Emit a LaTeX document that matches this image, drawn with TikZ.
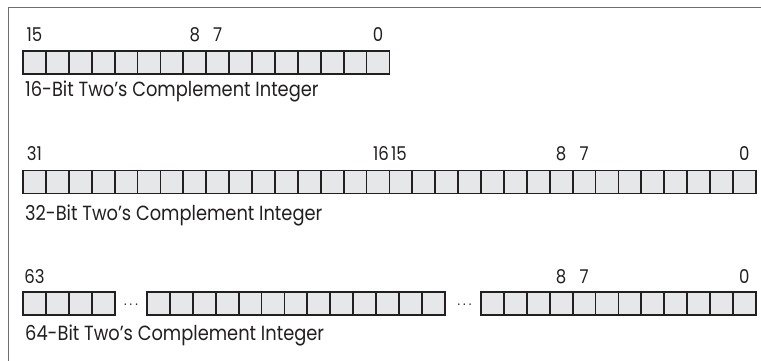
\documentclass[tikz,border=0pt]{standalone}
\usepackage{fontspec}
\setmainfont{Poppins}[FakeStretch=0.87]
\definecolor{cellfill}{HTML}{E6E7E8}
\definecolor{cellline}{HTML}{231F20}
\definecolor{framec}{HTML}{6D6E71}
\begin{document}
\begin{tikzpicture}[x=1pt,y=-1pt,
 cell/.style={draw=cellline, fill=cellfill, line width=1.8pt, minimum width=22.9pt, minimum height=23pt, inner sep=0pt, outer sep=0pt, anchor=north west},
 bitnum/.style={font=\fontsize{19}{19}\selectfont, text=cellline, inner sep=0pt, anchor=base},
 capt/.style={font=\fontsize{20.5}{20.5}\selectfont, text=cellline, inner sep=0pt, anchor=base west},
 dots/.style={font=\fontsize{14}{14}\selectfont, text=cellline, inner sep=0pt, anchor=base},
]
\useasboundingbox (0,0) rectangle (761,361);
\draw[framec, line width=1pt] (8,361) -- (8,8) -- (761,8);
% 16-bit
\foreach \i in {0,...,15}{
  \pgfmathtruncatemacro{\b}{15-\i}
  \node[cell] (a\b) at ({23+\i*22.9},51) {};
}
\node[bitnum] (la15) at (a15.center |- 0,41.5) {15};
\node[bitnum] (la8) at (a8.center |- 0,41.5) {8};
\node[bitnum] (la7) at (a7.center |- 0,41.5) {7};
\node[bitnum] (la0) at (a0.center |- 0,41.5) {0};
\node[capt] (ca) at (25,97) {16-Bit Two’s Complement Integer};
% 32-bit
\foreach \i in {0,...,31}{
  \pgfmathtruncatemacro{\b}{31-\i}
  \node[cell] (b\b) at ({23+\i*22.9},170.5) {};
}
\node[bitnum] (lb31) at (b31.center |- 0,160.5) {31};
\node[bitnum] (lb16) at ([xshift=3pt]b16.center |- 0,160.5) {16};
\node[bitnum] (lb15) at ([xshift=-2pt]b15.center |- 0,160.5) {15};
\node[bitnum] (lb8) at (b8.center |- 0,160.5) {8};
\node[bitnum] (lb7) at (b7.center |- 0,160.5) {7};
\node[bitnum] (lb0) at (b0.center |- 0,160.5) {0};
\node[capt] (cb) at (25,220.5) {32-Bit Two’s Complement Integer};
% 64-bit
\foreach \i in {0,...,3}{
  \pgfmathtruncatemacro{\b}{63-\i}
  \node[cell] (c\b) at ({23+\i*22.9},292) {};
}
\foreach \i in {0,...,12}{
  \pgfmathtruncatemacro{\b}{50-\i}
  \node[cell] (c\b) at ({147+\i*22.9},292) {};
}
\foreach \i in {0,...,11}{
  \pgfmathtruncatemacro{\b}{11-\i}
  \node[cell] (c\b) at ({481+\i*22.9},292) {};
}
\node[dots] (d1) at (131,305) {.\kern3pt.\kern3pt.};
\node[dots] (d2) at (464.5,305) {.\kern3pt.\kern3pt.};
\node[bitnum] (lc63) at (c63.center |- 0,283.5) {63};
\node[bitnum] (lc8) at (c8.center |- 0,283.5) {8};
\node[bitnum] (lc7) at (c7.center |- 0,283.5) {7};
\node[bitnum] (lc0) at (c0.center |- 0,283.5) {0};
\node[capt] (cc) at (25,340) {64-Bit Two’s Complement Integer};
\end{tikzpicture}
\end{document}
